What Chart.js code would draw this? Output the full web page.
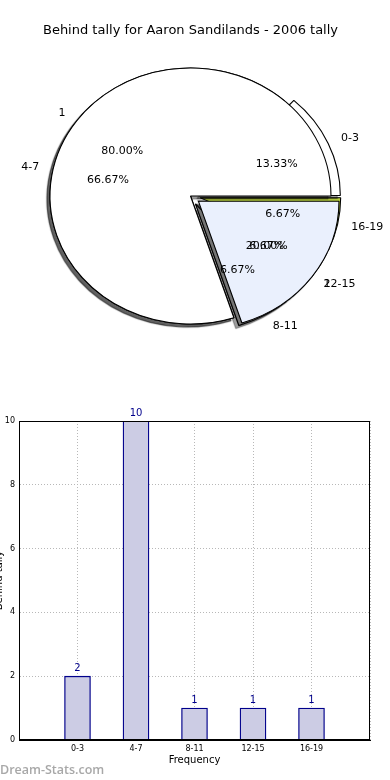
<!DOCTYPE html>
<html>
<head>
<meta charset="utf-8">
<script src="https://cdn.jsdelivr.net/npm/chart.js@4.4.0/dist/chart.umd.min.js"></script>
<style>
  body { margin: 0; background: #fff; width: 390px; height: 780px; overflow: hidden; position: relative; }
  #pieBox canvas { position: absolute; left: 0; top: 0; }
  #barChart { position: absolute; left: 0; top: 390px; }
  #mark { position: absolute; left: 0; top: 761px; color: #a8a8a8; font: 600 12.5px "Open Sans"; }
</style>
</head>
<body>
<div id="pieBox">
  <canvas id="pieBack" width="390" height="380"></canvas>
  <canvas id="pieFront" width="390" height="380"></canvas>
</div>
<canvas id="barChart" width="390" height="390"></canvas>
<div id="mark">Dream-Stats.com</div>

<script>
const chartTitle = 'Behind tally for Aaron Sandilands - 2006 tally';
const categories = ['0-3', '4-7', '8-11', '12-15', '16-19'];
const tallies = [2, 10, 1, 1, 1];
const groups = ['1', '2'];
const groupTallies = [12, 3];
const yTicks = [0, 2, 4, 6, 8, 10];

const FONT = '"DejaVu Sans"';
const SX = 140.5 / 128; // the pie is drawn as an ellipse

// matplotlib goes counter-clockwise from 3 o'clock, Chart.js clockwise,
// so the slices are handed over in reverse order
const rev = a => a.slice().reverse();

// explode: a number pushes the slice out along its middle, [dx, dy] moves it
function shiftOf(s, mid) {
  if (Array.isArray(s)) return { x: s[0], y: s[1] };
  const d = s || 0;
  return { x: Math.cos(mid) * d, y: Math.sin(mid) * d };
}

// draws each slice shifted out and with a flat shadow under it
const pieLook = {
  id: 'pieLook',
  afterDatasetUpdate(chart, args, opts) {
    args.meta.data.forEach((arc, i) => {
      if (arc._wrapped) return;
      const draw = arc.draw;
      arc.draw = function (ctx, area) {
        const sh = shiftOf(opts.shifts[i], (this.startAngle + this.endAngle) / 2);
        ctx.save();
        ctx.translate(sh.x, sh.y);
        ctx.save();
        ctx.translate(2000, 0);
        ctx.shadowColor = 'rgba(0,0,0,0.38)';
        ctx.shadowBlur = 1;
        ctx.shadowOffsetX = -2000 * SX - 3;
        ctx.shadowOffsetY = 3;
        draw.call(this, ctx, area);
        ctx.restore();
        draw.call(this, ctx, area);
        ctx.restore();
      };
      arc._wrapped = true;
    });
  },
  beforeDatasetsDraw(chart) {
    const a = chart.getDatasetMeta(0).data[0];
    const ctx = chart.ctx;
    ctx.save();
    ctx.translate(a.x, a.y);
    ctx.scale(SX, 1);
    ctx.translate(-a.x, -a.y);
  },
  afterDatasetsDraw(chart) {
    chart.ctx.restore();
  }
};

function drawPieLabels(ctx, chart) {
  const shifts = chart.options.plugins.pieLook.shifts;
  const values = chart.data.datasets[0].data;
  const total = values.reduce((a, b) => a + b, 0);
  ctx.save();
  ctx.font = '11px ' + FONT;
  ctx.fillStyle = '#000';
  ctx.textBaseline = 'middle';
  chart.getDatasetMeta(0).data.forEach((arc, i) => {
    const mid = (arc.startAngle + arc.endAngle) / 2;
    const sh = shiftOf(shifts[i], mid);
    const at = k => ({
      x: arc.x + (sh.x + Math.cos(mid) * k * arc.outerRadius) * SX,
      y: arc.y + sh.y + Math.sin(mid) * k * arc.outerRadius
    });
    const p = at(1.1);
    ctx.textAlign = Math.cos(mid) >= 0 ? 'left' : 'right';
    ctx.fillText(chart.data.labels[i], p.x, p.y);
    const q = at(0.6);
    ctx.textAlign = 'center';
    ctx.fillText((values[i] / total * 100).toFixed(2) + '%', q.x, q.y);
  });
  ctx.restore();
}

function pieOptions(shifts, titleColor) {
  return {
    responsive: false,
    animation: false,
    rotation: 90,
    radius: 128,
    layout: { padding: { left: 0, right: 9, top: 0, bottom: 37.6 } },
    plugins: {
      legend: { display: false },
      tooltip: { enabled: false },
      title: {
        display: true, text: chartTitle, color: titleColor,
        font: { family: FONT, size: 13, weight: 'normal' },
        padding: { top: 23, bottom: 11 }
      },
      pieLook: { shifts: shifts }
    }
  };
}

const backPie = new Chart(document.getElementById('pieBack'), {
  type: 'pie',
  data: {
    labels: rev(categories),
    datasets: [{
      data: rev(tallies),
      backgroundColor: rev(['#ffffff', '#ffffff', '#bdbdbd', '#dfe6f5', '#b8d040']),
      borderColor: '#000',
      borderWidth: 1
    }]
  },
  options: pieOptions(rev([[8.5, -0.5], 0, 9, 9, 9]), '#000'),
  plugins: [pieLook]
});

const frontPie = new Chart(document.getElementById('pieFront'), {
  type: 'pie',
  data: {
    labels: rev(groups),
    datasets: [{
      data: rev(groupTallies),
      backgroundColor: rev(['#ffffff', '#eaf0fd']),
      borderColor: '#000',
      borderWidth: 1
    }]
  },
  options: pieOptions(rev([0, 9]), 'rgba(0,0,0,0)'),
  plugins: [pieLook, {
    id: 'pieText',
    afterDraw(chart) {
      drawPieLabels(chart.ctx, backPie);
      drawPieLabels(chart.ctx, chart);
    }
  }]
});

// ---------------------------------------------------------------

const barText = {
  id: 'barText',
  afterDraw(chart) {
    const ctx = chart.ctx;
    const a = chart.chartArea;
    ctx.save();
    ctx.strokeStyle = '#000';
    ctx.lineWidth = 1;
    ctx.strokeRect(Math.round(a.left) + 0.5, Math.round(a.top) + 0.5, Math.round(a.width) - 1, Math.round(a.height) - 1);
    ctx.font = '10px ' + FONT;
    ctx.fillStyle = '#00008b';
    ctx.textAlign = 'center';
    ctx.textBaseline = 'alphabetic';
    const values = chart.data.datasets[0].data;
    chart.getDatasetMeta(0).data.forEach((bar, i) => {
      if (values[i] == null) return;
      ctx.fillText(values[i], bar.x, bar.y - 5);
    });
    ctx.restore();
  }
};

new Chart(document.getElementById('barChart'), {
  type: 'bar',
  data: {
    labels: ['', ...categories, ''],
    datasets: [{
      data: [null, ...tallies, null],
      backgroundColor: 'rgb(204,204,228)',
      borderColor: '#00008b',
      borderWidth: 1.3,
      barThickness: 26
    }]
  },
  options: {
    responsive: false,
    animation: false,
    layout: { padding: { left: 0, right: 20, top: 31, bottom: 12 } },
    plugins: { legend: { display: false }, tooltip: { enabled: false } },
    scales: {
      x: {
        offset: false,
        z: 1,
        grid: { color: '#b8b8b8', drawTicks: false, offset: false },
        border: { color: '#000', dash: [1, 2] },
        ticks: { color: '#000', font: { family: FONT, size: 8 }, padding: 4, maxRotation: 0, autoSkip: false },
        title: { display: true, text: 'Frequency', color: '#000', font: { family: FONT, size: 10 }, padding: { top: 0, bottom: 2 } },
        afterFit: s => { s.height = 28; }
      },
      y: {
        min: yTicks[0],
        max: yTicks[yTicks.length - 1],
        z: 1,
        grid: { color: '#b8b8b8', drawTicks: false },
        border: { color: '#000', dash: [1, 2] },
        afterBuildTicks: s => { s.ticks = yTicks.map(v => ({ value: v })); },
        ticks: { color: '#000', font: { family: FONT, size: 8 }, padding: 4 },
        title: { display: true, text: 'Behind tally', color: '#000', font: { family: FONT, size: 10 }, padding: { top: -7, bottom: 0 } },
        afterFit: s => { s.width = 19; }
      }
    }
  },
  plugins: [barText]
});
</script>
</body>
</html>
